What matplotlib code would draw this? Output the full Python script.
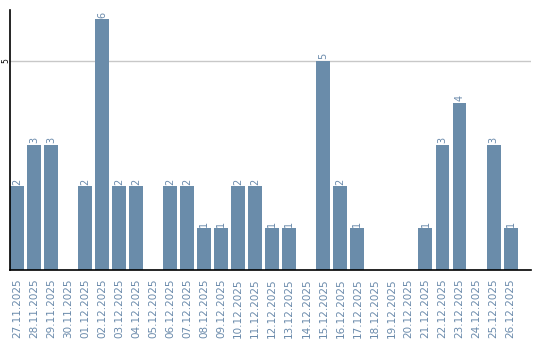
import matplotlib
matplotlib.use("Agg")
import matplotlib.pyplot as plt

# Daily counts
dates = [
    "27.11.2025", "28.11.2025", "29.11.2025", "30.11.2025", "01.12.2025",
    "02.12.2025", "03.12.2025", "04.12.2025", "05.12.2025", "06.12.2025",
    "07.12.2025", "08.12.2025", "09.12.2025", "10.12.2025", "11.12.2025",
    "12.12.2025", "13.12.2025", "14.12.2025", "15.12.2025", "16.12.2025",
    "17.12.2025", "18.12.2025", "19.12.2025", "20.12.2025", "21.12.2025",
    "22.12.2025", "23.12.2025", "24.12.2025", "25.12.2025", "26.12.2025",
]
counts = [2, 3, 3, 0, 2, 6, 2, 2, 0, 2, 2, 1, 1, 2, 2,
          1, 1, 0, 5, 2, 1, 0, 0, 0, 1, 3, 4, 0, 3, 1]

bar_color = "#6a8caa"
text_color = "#6a8aab"

fig = plt.figure(figsize=(5.4, 3.4), dpi=100)
ax = fig.add_axes([10 / 540, 70 / 340, 521 / 540, 260 / 340])

x = list(range(len(dates)))
ax.bar(x, counts, width=0.82, color=bar_color, zorder=2)

# Value labels above non-zero bars
for xi, v in zip(x, counts):
    if v > 0:
        ax.text(xi, v + 0.04, str(v), rotation=90, ha="center", va="bottom",
                fontsize=7, color=text_color)

ax.set_xlim(-0.41, 30.2)
ax.set_ylim(0, 6.22)

ax.set_yticks([5])
ax.set_yticklabels(["5"], rotation=90, va="center", ha="center", fontsize=5.5)
ax.tick_params(axis="y", length=0, pad=3)
ax.yaxis.grid(True, color="#c8c8c8", linewidth=1, zorder=0)

ax.set_xticks(x)
ax.set_xticklabels(dates, rotation=90, fontsize=7.5, color=text_color)
ax.tick_params(axis="x", length=0, pad=6)

for side in ["top", "right"]:
    ax.spines[side].set_visible(False)
ax.spines["left"].set_linewidth(1.2)
ax.spines["bottom"].set_linewidth(1.2)

fig.savefig("out.png", dpi=100)
